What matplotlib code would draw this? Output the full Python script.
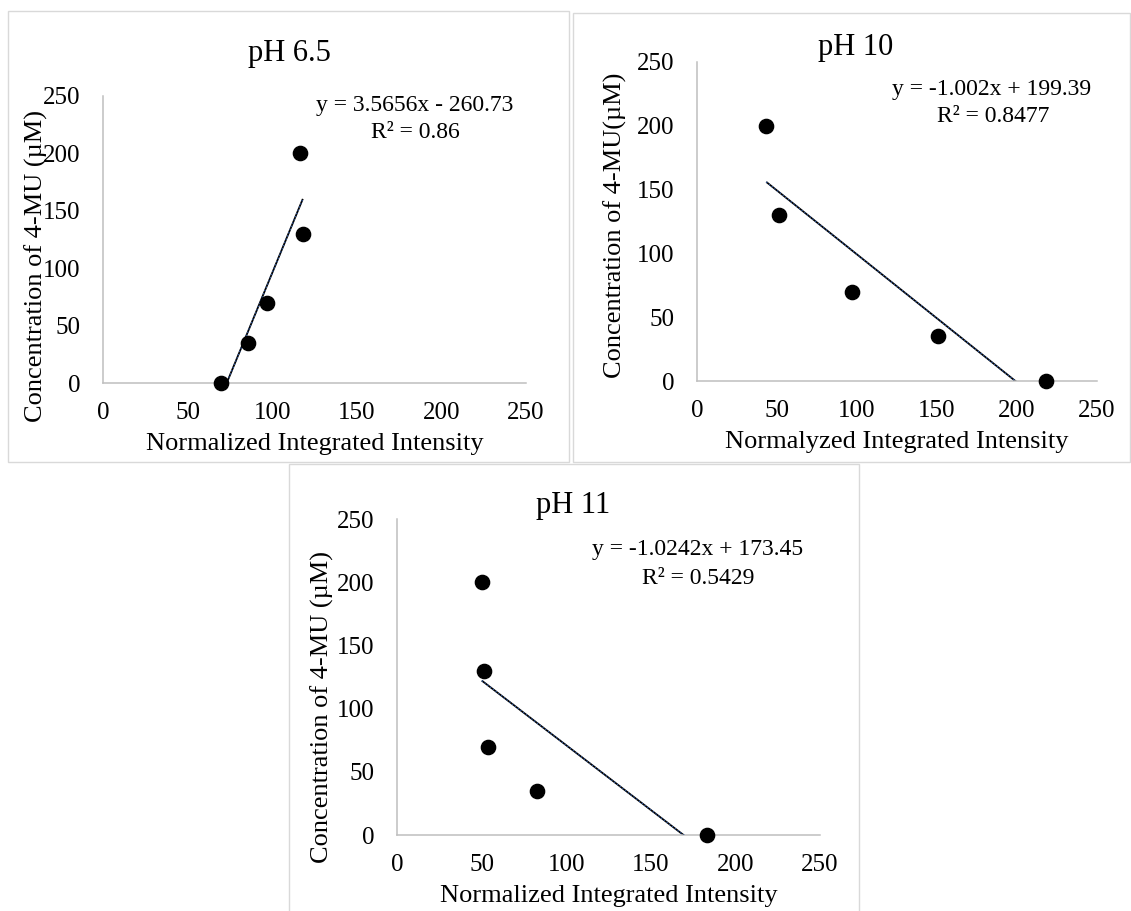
import matplotlib
matplotlib.use("Agg")
import matplotlib.pyplot as plt
from matplotlib.patches import Rectangle
import numpy as np

plt.rcParams['font.family'] = ['Liberation Serif', 'DejaVu Serif']

W, H = 1131, 911

# ---------------- data ----------------
titles = ["pH 6.5", "pH 10", "pH 11"]
xlabels = ["Normalized Integrated Intensity", "Normalyzed Integrated Intensity",
           "Normalized Integrated Intensity"]
ylabels = ["Concentration of 4-MU (µM)", "Concentration of 4-MU(µM)",
           "Concentration of 4-MU (µM)"]

x_ph65 = [69.7, 85.8, 97.2, 116.5, 118.1]
y_ph65 = [0, 35, 70, 200, 130]
x_ph10 = [43.3, 51.5, 96.8, 150.5, 218.1]
y_ph10 = [200, 130, 70, 35, 0]
x_ph11 = [50.1, 51.2, 54.0, 83.0, 183.4]
y_ph11 = [200, 130, 70, 35, 0]

slopes = [3.5656, -1.002, -1.0242]
intercepts = [-260.73, 199.39, 173.45]
equations = ["y = 3.5656x - 260.73", "y = -1.002x + 199.39", "y = -1.0242x + 173.45"]
r2_texts = ["R² = 0.86", "R² = 0.8477", "R² = 0.5429"]

ticks = [0, 50, 100, 150, 200, 250]

# ---------------- layout (pixels) ----------------
borders = [(8, 11, 569, 462), (573, 13, 1130, 462), (289, 464, 859, 915)]
axes_px = [(103, 526, 383, 96), (697, 1097, 381, 62), (397, 820, 835, 519)]
title_pos = [(289, 53), (856, 48), (573, 505)]
ylabel_pos = [(36, 266), (615, 225), (322, 707)]
eq_pos = [(415, 105), (992, 90), (698, 550)]
r2_pos = [(415, 132), (993, 117), (698, 578)]

fig = plt.figure(figsize=(W / 100, H / 100), dpi=100)
fig.patch.set_facecolor("white")

def fx(x):
    return x / W

def fy(y):
    return 1 - y / H

for (l, t, r, b) in borders:
    fig.patches.append(Rectangle((fx(l), fy(b)), (r - l) / W, (b - t) / H,
                                 transform=fig.transFigure, fill=False,
                                 edgecolor="#d9d9d9", linewidth=1.0))

xs = [x_ph65, x_ph10, x_ph11]
ys = [y_ph65, y_ph10, y_ph11]

for i in range(3):
    x0, x1, y0, y1 = axes_px[i]
    ax = fig.add_axes([fx(x0), fy(y0), (x1 - x0) / W, (y0 - y1) / H])
    ax.set_xlim(0, 250)
    ax.set_ylim(0, 250)
    ax.set_facecolor("none")
    for s in ["top", "right"]:
        ax.spines[s].set_visible(False)
    for s in ["left", "bottom"]:
        ax.spines[s].set_color("#bfbfbf")
        ax.spines[s].set_linewidth(1.1)
    ax.set_xticks(ticks)
    ax.set_yticks(ticks)
    ax.tick_params(axis="both", length=0, labelsize=18)
    ax.tick_params(axis="x", pad=14)
    ax.tick_params(axis="y", pad=16)
    ax.set_xlabel(xlabels[i], fontsize=19, labelpad=6)

    xd = np.array(xs[i])
    xx = np.array([xd.min(), xd.max()])
    yy = slopes[i] * xx + intercepts[i]
    ax.plot(xx, yy, color="black", lw=1.3, solid_capstyle="butt", zorder=2)
    ax.plot(xx, yy, color="#2f5597", lw=1.0, ls=(0, (1, 1.5)), zorder=3)
    ax.scatter(xs[i], ys[i], s=105, color="black", zorder=4, clip_on=False)

    fig.text(fx(title_pos[i][0]), fy(title_pos[i][1]), titles[i], fontsize=22,
             ha="center", va="center")
    fig.text(fx(ylabel_pos[i][0]), fy(ylabel_pos[i][1]), ylabels[i], fontsize=19,
             ha="center", va="center", rotation=90)
    fig.text(fx(eq_pos[i][0]), fy(eq_pos[i][1]), equations[i], fontsize=17,
             ha="center", va="center")
    fig.text(fx(r2_pos[i][0]), fy(r2_pos[i][1]), r2_texts[i], fontsize=17,
             ha="center", va="center")

fig.savefig("out.png", dpi=100)
